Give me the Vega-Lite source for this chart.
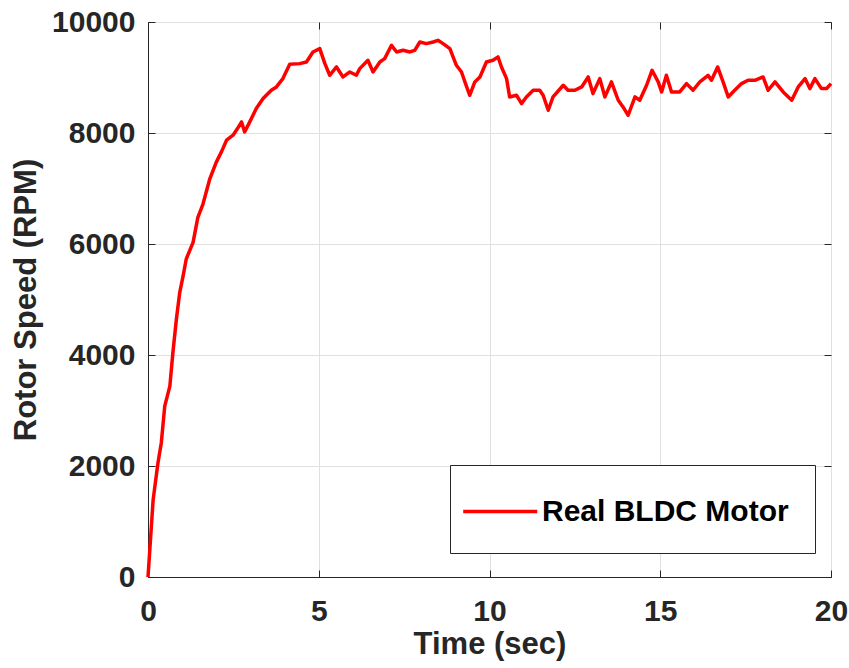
{
  "$schema": "https://vega.github.io/schema/vega-lite/v6.json",
  "width": 683,
  "height": 555,
  "autosize": {"type": "none"},
  "padding": {"left": 148, "top": 22, "right": 18, "bottom": 91},
  "background": "white",
  "config": {
    "view": {"stroke": "#262626", "strokeWidth": 1},
    "font": "Liberation Sans",
    "axis": {
      "labelFont": "Liberation Sans",
      "labelFontWeight": "bold",
      "labelFontSize": 30,
      "labelColor": "#262626",
      "labelFlush": false,
      "titleFont": "Liberation Sans",
      "titleFontWeight": "bold",
      "titleFontSize": 31,
      "titleColor": "#262626",
      "domainColor": "#262626",
      "tickColor": "#262626",
      "gridColor": "#e0e0e0",
      "gridWidth": 1
    }
  },
  "data": {
    "values": [
      {"t": 0, "v": 0}, {"t": 0.15, "v": 1390}, {"t": 0.29, "v": 2050}, {"t": 0.39, "v": 2420},
      {"t": 0.49, "v": 3080}, {"t": 0.64, "v": 3440}, {"t": 0.73, "v": 4050}, {"t": 0.83, "v": 4640},
      {"t": 0.93, "v": 5130}, {"t": 1.03, "v": 5430}, {"t": 1.12, "v": 5730}, {"t": 1.32, "v": 6030},
      {"t": 1.46, "v": 6480}, {"t": 1.61, "v": 6720}, {"t": 1.81, "v": 7175}, {"t": 2.0, "v": 7475},
      {"t": 2.15, "v": 7660}, {"t": 2.3, "v": 7870}, {"t": 2.49, "v": 7960}, {"t": 2.62, "v": 8080},
      {"t": 2.74, "v": 8200}, {"t": 2.83, "v": 8020}, {"t": 2.98, "v": 8200}, {"t": 3.17, "v": 8440},
      {"t": 3.37, "v": 8620}, {"t": 3.61, "v": 8770}, {"t": 3.76, "v": 8830}, {"t": 3.95, "v": 8980},
      {"t": 4.15, "v": 9240}, {"t": 4.44, "v": 9250}, {"t": 4.64, "v": 9280}, {"t": 4.83, "v": 9460},
      {"t": 5.03, "v": 9520}, {"t": 5.18, "v": 9250}, {"t": 5.32, "v": 9040}, {"t": 5.52, "v": 9190},
      {"t": 5.71, "v": 9010}, {"t": 5.91, "v": 9100}, {"t": 6.1, "v": 9040}, {"t": 6.2, "v": 9160},
      {"t": 6.44, "v": 9310}, {"t": 6.59, "v": 9100}, {"t": 6.79, "v": 9280}, {"t": 6.93, "v": 9340},
      {"t": 7.13, "v": 9580}, {"t": 7.28, "v": 9460}, {"t": 7.47, "v": 9490}, {"t": 7.67, "v": 9460},
      {"t": 7.81, "v": 9490}, {"t": 7.96, "v": 9640}, {"t": 8.15, "v": 9610}, {"t": 8.35, "v": 9640},
      {"t": 8.49, "v": 9670}, {"t": 8.64, "v": 9610}, {"t": 8.84, "v": 9520}, {"t": 9.03, "v": 9220},
      {"t": 9.18, "v": 9100}, {"t": 9.28, "v": 8920}, {"t": 9.42, "v": 8680}, {"t": 9.57, "v": 8920},
      {"t": 9.72, "v": 9010}, {"t": 9.91, "v": 9280}, {"t": 10.1, "v": 9310}, {"t": 10.25, "v": 9370},
      {"t": 10.35, "v": 9190}, {"t": 10.5, "v": 8980}, {"t": 10.59, "v": 8650}, {"t": 10.79, "v": 8680},
      {"t": 10.94, "v": 8530}, {"t": 11.08, "v": 8650}, {"t": 11.28, "v": 8770}, {"t": 11.47, "v": 8770},
      {"t": 11.57, "v": 8680}, {"t": 11.72, "v": 8410}, {"t": 11.86, "v": 8650}, {"t": 12.16, "v": 8860},
      {"t": 12.3, "v": 8770}, {"t": 12.5, "v": 8770}, {"t": 12.7, "v": 8830}, {"t": 12.89, "v": 9010},
      {"t": 13.03, "v": 8710}, {"t": 13.23, "v": 8980}, {"t": 13.38, "v": 8650}, {"t": 13.57, "v": 8920},
      {"t": 13.77, "v": 8590}, {"t": 13.91, "v": 8470}, {"t": 14.06, "v": 8320}, {"t": 14.26, "v": 8650},
      {"t": 14.4, "v": 8590}, {"t": 14.6, "v": 8860}, {"t": 14.76, "v": 9130}, {"t": 14.94, "v": 8920},
      {"t": 15.04, "v": 8740}, {"t": 15.18, "v": 9040}, {"t": 15.33, "v": 8740}, {"t": 15.57, "v": 8740},
      {"t": 15.77, "v": 8890}, {"t": 15.96, "v": 8770}, {"t": 16.16, "v": 8920}, {"t": 16.4, "v": 9040},
      {"t": 16.5, "v": 8950}, {"t": 16.68, "v": 9190}, {"t": 16.84, "v": 8920}, {"t": 16.99, "v": 8650},
      {"t": 17.18, "v": 8770}, {"t": 17.38, "v": 8890}, {"t": 17.57, "v": 8950}, {"t": 17.77, "v": 8950},
      {"t": 18.01, "v": 9010}, {"t": 18.16, "v": 8770}, {"t": 18.36, "v": 8920}, {"t": 18.6, "v": 8740},
      {"t": 18.85, "v": 8590}, {"t": 19.04, "v": 8830}, {"t": 19.24, "v": 8980}, {"t": 19.38, "v": 8800},
      {"t": 19.53, "v": 8980}, {"t": 19.72, "v": 8800}, {"t": 19.87, "v": 8800}, {"t": 20, "v": 8890}
    ]
  },
  "layer": [
    {
      "mark": {"type": "line", "opacity": 0},
      "encoding": {
        "x": {"field": "t", "type": "quantitative", "scale": {"domain": [0, 20], "nice": false},
              "axis": {"orient": "top", "labels": false, "title": null, "grid": false, "domain": false, "tickSize": -7, "values": [0, 5, 10, 15, 20]}},
        "y": {"field": "v", "type": "quantitative", "scale": {"domain": [0, 10000], "nice": false},
              "axis": {"orient": "right", "labels": false, "title": null, "grid": false, "domain": false, "tickSize": -7, "values": [0, 2000, 4000, 6000, 8000, 10000]}}
      }
    },
    {
      "mark": {"type": "line", "color": "#ff0000", "strokeWidth": 3.5, "interpolate": "linear", "strokeJoin": "round"},
      "encoding": {
        "x": {"field": "t", "type": "quantitative", "scale": {"domain": [0, 20], "nice": false},
              "axis": {"orient": "bottom", "title": "Time (sec)", "grid": true, "tickSize": -7, "labelPadding": 26, "titlePadding": 3, "values": [0, 5, 10, 15, 20], "format": "d"}},
        "y": {"field": "v", "type": "quantitative", "scale": {"domain": [0, 10000], "nice": false},
              "axis": {"orient": "left", "title": "Rotor Speed (RPM)", "grid": true, "tickSize": -7, "labelPadding": 20, "titlePadding": 9, "values": [0, 2000, 4000, 6000, 8000, 10000], "format": "d"}},
        "color": {
          "datum": "Real BLDC Motor",
          "type": "nominal",
          "scale": {"range": ["#ff0000"]},
          "legend": {
            "title": null,
            "orient": "none",
            "legendX": 302,
            "legendY": 443,
            "strokeColor": "#262626",
            "fillColor": "white",
            "padding": 26,
            "symbolType": "M-1.8,0H2.2",
            "symbolSize": 1369,
            "symbolStrokeWidth": 3.5,
            "labelFont": "Liberation Sans",
            "labelFontWeight": "bold",
            "labelFontSize": 30,
            "labelColor": "black",
            "labelOffset": 25,
            "labelLimit": 400
          }
        }
      }
    }
  ],
  "resolve": {"axis": {"x": "independent", "y": "independent"}}
}
